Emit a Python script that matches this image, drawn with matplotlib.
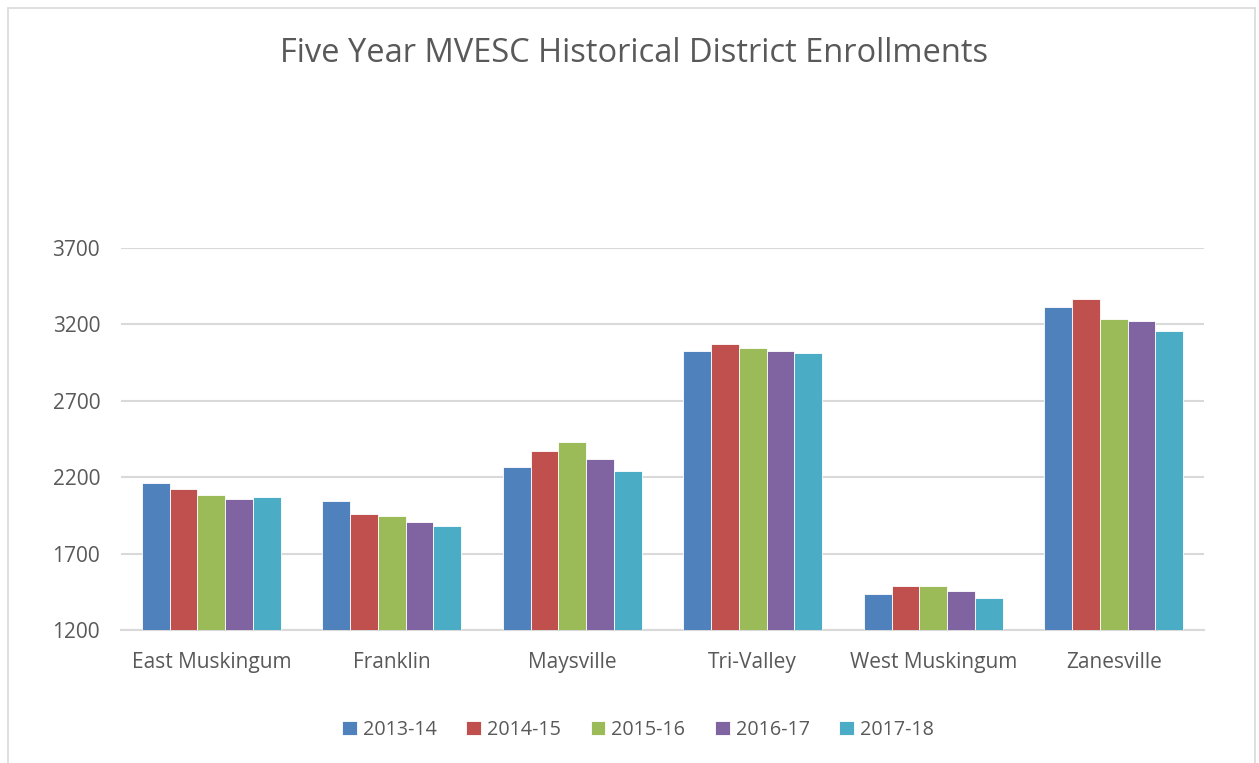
import numpy as np
import matplotlib.pyplot as plt
from matplotlib.patches import Rectangle

districts = ['East Muskingum', 'Franklin', 'Maysville', 'Tri-Valley',
             'West Muskingum', 'Zanesville']
years = ['2013-14', '2014-15', '2015-16', '2016-17', '2017-18']
enroll_1314 = [2162, 2045, 2266, 3028, 1433, 3311]
enroll_1415 = [2125, 1960, 2371, 3071, 1490, 3367]
enroll_1516 = [2081, 1949, 2432, 3043, 1490, 3236]
enroll_1617 = [2060, 1905, 2321, 3026, 1455, 3221]
enroll_1718 = [2073, 1879, 2240, 3011, 1407, 3154]
series = [enroll_1314, enroll_1415, enroll_1516, enroll_1617, enroll_1718]
colors = ['#4F81BD', '#C0504D', '#9BBB59', '#8064A2', '#4BACC6']

plt.rcParams['font.family'] = ['Open Sans', 'DejaVu Sans']
txt = '#595959'

fig = plt.figure(figsize=(12.59, 7.63), dpi=100)
ax = fig.add_axes([121/1259, 1-630/763, 1083/1259, 382/763])

# chart frame
fig.patches.append(Rectangle((8/1259, -0.05), 1247/1259, 1-8/763+0.05,
                             transform=fig.transFigure, fill=False,
                             edgecolor='#d9d9d9', linewidth=1.2))

x = np.arange(len(districts))
bw = 0.154
for i, vals in enumerate(series):
    ax.bar(x + (i-2)*bw, vals, width=bw, color=colors[i], label=years[i],
           edgecolor='white', linewidth=0.6, zorder=3)

ax.set_xlim(-0.5, 5.5)
ax.set_ylim(1200, 3700)
ax.set_yticks(range(1200, 3701, 500))
ax.set_xticks(x)
ax.set_xticklabels(districts)
ax.grid(axis='y', color='#d9d9d9', linewidth=1.5, zorder=0)
for s in ['top', 'right', 'left']:
    ax.spines[s].set_visible(False)
ax.spines['bottom'].set_color('#d9d9d9')
ax.spines['bottom'].set_linewidth(1.5)
ax.tick_params(axis='both', length=0, labelsize=15, colors=txt)
ax.tick_params(axis='y', pad=15)
ax.tick_params(axis='x', pad=16)

fig.text(634/1259, 1-53/763, 'Five Year MVESC Historical District Enrollments',
         ha='center', va='center', fontsize=23.5, color=txt)

ax.legend(loc='center', bbox_to_anchor=(638/1259, 1-730/763),
          bbox_transform=fig.transFigure, ncol=5, frameon=False,
          fontsize=14.2, labelcolor=txt, handlelength=0.75, handleheight=0.75,
          handletextpad=0.3, columnspacing=1.5)

fig.savefig('out.png', dpi=100)
